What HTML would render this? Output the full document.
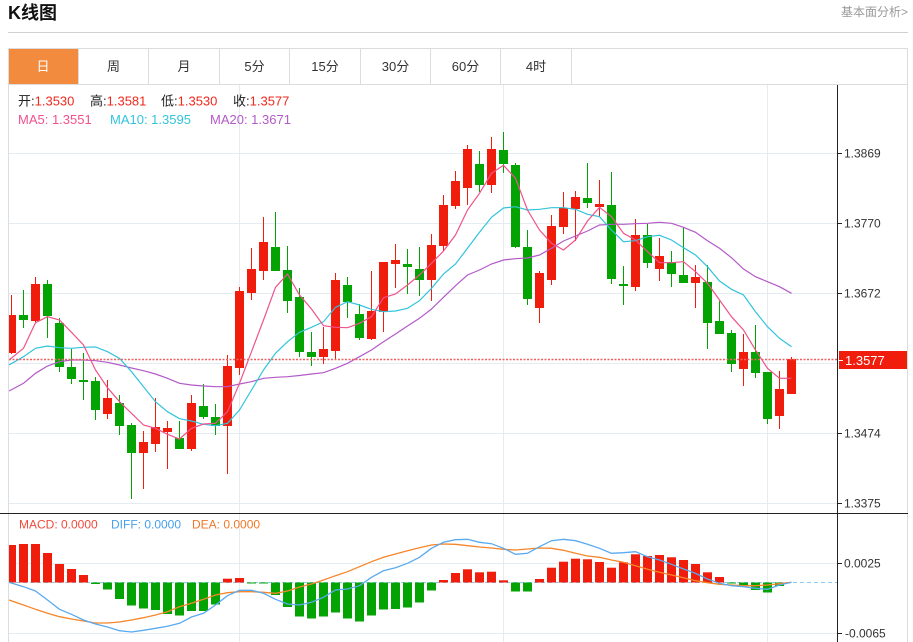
<!DOCTYPE html>
<html><head><meta charset="utf-8"><style>
html,body{margin:0;padding:0;background:#fff;}
svg{display:block;font-family:"Liberation Sans","Noto Sans CJK SC",sans-serif;}
</style></head><body>
<svg width="913" height="642" viewBox="0 0 913 642" xmlns="http://www.w3.org/2000/svg">
<defs><clipPath id="cp"><rect x="9" y="85" width="828.5" height="557"/></clipPath></defs>
<rect width="913" height="642" fill="#fff"/>
<text x="8" y="19" font-size="18" font-weight="bold" fill="#111">K线图</text>
<text x="908" y="16" font-size="12" fill="#999" text-anchor="end">基本面分析&gt;</text>
<line x1="8" y1="32.5" x2="908" y2="32.5" stroke="#d0d0d0" stroke-width="1"/>
<!-- frame -->
<rect x="8.5" y="48.5" width="899" height="600" fill="none" stroke="#dcdcdc"/>
<line x1="8" y1="84.5" x2="908" y2="84.5" stroke="#dcdcdc"/>
<rect x="9" y="49" width="69.5" height="35" fill="#f28b3e"/>
<g stroke="#dcdcdc">
<line x1="78.5" y1="49" x2="78.5" y2="84"/><line x1="148.5" y1="49" x2="148.5" y2="84"/><line x1="219.5" y1="49" x2="219.5" y2="84"/><line x1="289.5" y1="49" x2="289.5" y2="84"/><line x1="360.5" y1="49" x2="360.5" y2="84"/><line x1="430.5" y1="49" x2="430.5" y2="84"/><line x1="500.5" y1="49" x2="500.5" y2="84"/><line x1="571.5" y1="49" x2="571.5" y2="84"/>
</g>
<g font-size="13" text-anchor="middle" fill="#333">
<text x="43" y="71" fill="#fff">日</text><text x="113.5" y="71">周</text><text x="184" y="71">月</text><text x="254.5" y="71">5分</text><text x="325" y="71">15分</text><text x="395.5" y="71">30分</text><text x="465.5" y="71">60分</text><text x="536" y="71">4时</text>
</g>
<!-- grid -->
<g stroke="#e4ebf1" stroke-width="1">
<line x1="9" y1="153.5" x2="838" y2="153.5"/><line x1="9" y1="223.5" x2="838" y2="223.5"/><line x1="9" y1="293.5" x2="838" y2="293.5"/><line x1="9" y1="363.5" x2="838" y2="363.5"/><line x1="9" y1="433.5" x2="838" y2="433.5"/><line x1="9" y1="503.5" x2="838" y2="503.5"/>
<line x1="9" y1="563.5" x2="838" y2="563.5"/><line x1="9" y1="633.5" x2="838" y2="633.5"/>
<line x1="239.5" y1="85" x2="239.5" y2="642"/><line x1="503.5" y1="85" x2="503.5" y2="642"/><line x1="767.5" y1="85" x2="767.5" y2="642"/>
</g>
<!-- info text -->
<g font-size="13">
<text x="18" y="105.5"><tspan fill="#222">开:</tspan><tspan fill="#f0281e">1.3530</tspan></text>
<text x="90" y="105.5"><tspan fill="#222">高:</tspan><tspan fill="#f0281e">1.3581</tspan></text>
<text x="161" y="105.5"><tspan fill="#222">低:</tspan><tspan fill="#f0281e">1.3530</tspan></text>
<text x="233" y="105.5"><tspan fill="#222">收:</tspan><tspan fill="#f0281e">1.3577</tspan></text>
<text x="18" y="124" fill="#f0528c">MA5: 1.3551</text>
<text x="110" y="124" fill="#32c4dc">MA10: 1.3595</text>
<text x="210" y="124" fill="#b45ac8">MA20: 1.3671</text>
</g>
<g clip-path="url(#cp)">
<!-- wicks -->
<path fill="none" stroke="#f01c0c" stroke-width="1" d="M11.5 295V354M35.5 277V323M107.5 380V419M143.5 431V489M155.5 398V452M167.5 421V469M191.5 395V451M227.5 355V474M239.5 287V375M251.5 248V300M263.5 217V280M323.5 327V364M335.5 273V359M371.5 271V340M383.5 262V332M395.5 244V288M431.5 234V301M443.5 195V251M455.5 171V209M467.5 145V205M491.5 137V193M539.5 271V323M551.5 215V285M563.5 192V234M575.5 191V241M599.5 180V217M635.5 219V291M659.5 238V281M695.5 265V308M743.5 334V386M779.5 371V429M791.5 357V394"/>
<path fill="none" stroke="#04a304" stroke-width="1" d="M23.5 290V328M47.5 280V338M59.5 318V372M71.5 349V384M83.5 353V400M95.5 377V420M119.5 395V435M131.5 423V499M179.5 421V449M203.5 384V419M215.5 404V435M275.5 212V271M287.5 246V313M299.5 288V357M311.5 332V366M347.5 277V318M359.5 304V340M407.5 249V294M419.5 247V296M479.5 151V192M503.5 132V173M515.5 163V248M527.5 230V305M587.5 163V208M611.5 172V284M623.5 266V305M647.5 224V268M671.5 251V287M683.5 227V283M707.5 265V349M719.5 301V334M731.5 330V372M755.5 325V378M767.5 372V424"/>
<!-- red bodies -->
<g fill="#f01c0c">
<rect x="7" y="315" width="9" height="38"/><rect x="31" y="284" width="9" height="37"/><rect x="103" y="398" width="9" height="16"/><rect x="139" y="442" width="9" height="11"/><rect x="151" y="427" width="9" height="17"/><rect x="163" y="428" width="9" height="4"/><rect x="187" y="403" width="9" height="46"/><rect x="223" y="366" width="9" height="60"/><rect x="235" y="291" width="9" height="77"/><rect x="247" y="269" width="9" height="24"/><rect x="259" y="242" width="9" height="29"/><rect x="319" y="349" width="9" height="8"/><rect x="331" y="280" width="9" height="71"/><rect x="367" y="311" width="9" height="28"/><rect x="379" y="262" width="9" height="50"/><rect x="391" y="260" width="9" height="4"/><rect x="427" y="245" width="9" height="35"/><rect x="439" y="205" width="9" height="41"/><rect x="451" y="181" width="9" height="25"/><rect x="463" y="149" width="9" height="39"/><rect x="487" y="149" width="9" height="36"/><rect x="535" y="273" width="9" height="35"/><rect x="547" y="226" width="9" height="54"/><rect x="559" y="208" width="9" height="19"/><rect x="571" y="197" width="9" height="12"/><rect x="595" y="204" width="9" height="3"/><rect x="631" y="235" width="9" height="52"/><rect x="655" y="256" width="9" height="13"/><rect x="691" y="277" width="9" height="6"/><rect x="739" y="352" width="9" height="17"/><rect x="775" y="389" width="9" height="27"/><rect x="787" y="359" width="9" height="35"/>
</g>
<g fill="#04a304">
<rect x="19" y="315" width="9" height="5"/><rect x="43" y="284" width="9" height="32"/><rect x="55" y="323" width="9" height="44"/><rect x="67" y="367" width="9" height="12"/><rect x="79" y="380" width="9" height="2"/><rect x="91" y="381" width="9" height="29"/><rect x="115" y="403" width="9" height="23"/><rect x="127" y="425" width="9" height="28"/><rect x="175" y="438" width="9" height="11"/><rect x="199" y="406" width="9" height="11"/><rect x="211" y="417" width="9" height="9"/><rect x="271" y="247" width="9" height="24"/><rect x="283" y="270" width="9" height="31"/><rect x="295" y="297" width="9" height="55"/><rect x="307" y="352" width="9" height="5"/><rect x="343" y="285" width="9" height="17"/><rect x="355" y="314" width="9" height="24"/><rect x="403" y="264" width="9" height="3"/><rect x="415" y="269" width="9" height="11"/><rect x="475" y="164" width="9" height="21"/><rect x="499" y="150" width="9" height="14"/><rect x="511" y="165" width="9" height="82"/><rect x="523" y="247" width="9" height="52"/><rect x="583" y="198" width="9" height="5"/><rect x="607" y="205" width="9" height="74"/><rect x="619" y="284" width="9" height="2"/><rect x="643" y="235" width="9" height="28"/><rect x="667" y="262" width="9" height="12"/><rect x="679" y="275" width="9" height="8"/><rect x="703" y="282" width="9" height="41"/><rect x="715" y="321" width="9" height="13"/><rect x="727" y="333" width="9" height="31"/><rect x="751" y="352" width="9" height="21"/><rect x="763" y="372" width="9" height="47"/>
</g>
<!-- MA lines -->
<polyline fill="none" stroke="#b45ac8" stroke-width="1.2" points="9,391 23.5,383.3 35.5,373.3 47.5,366 59.5,361.7 71.5,360 83.5,360 95.5,360.7 107.5,362.3 119.5,365 131.5,368 143.5,370.7 155.5,374 167.5,378.3 179.5,383.3 191.5,385 203.5,386 215.5,386.7 227.5,386.7 239.5,384 251.5,381.7 263.5,378.3 275.5,377.3 287.5,376.7 299.5,375.5 311.5,374 323.5,372.7 335.5,368.3 347.5,363.3 359.5,356.7 371.5,350 383.5,341.7 395.5,334 407.5,326 419.5,318.3 431.5,309 443.5,297.3 455.5,285.7 467.5,275 479.5,270 491.5,264 503.5,260 515.5,258.7 527.5,258 539.5,255 551.5,248.3 563.5,241 575.5,236 587.5,231 599.5,225 611.5,224.3 623.5,224.3 635.5,223.7 647.5,223.3 659.5,222.3 671.5,223.3 683.5,227.3 695.5,232.3 707.5,240.7 719.5,248.3 731.5,257.7 743.5,269 755.5,276.7 767.5,281.7 779.5,286.7 791.5,293.3"/>
<polyline fill="none" stroke="#32c4dc" stroke-width="1.2" points="9,365 23.5,356.7 35.5,348.3 47.5,346 59.5,347.7 71.5,348.3 83.5,347.3 95.5,347 107.5,351.7 119.5,358.3 131.5,371.7 143.5,386.7 155.5,401.7 167.5,411.7 179.5,418.7 191.5,421 203.5,424.3 215.5,425.7 227.5,423.3 239.5,410 251.5,390 263.5,370 275.5,353.3 287.5,341.7 299.5,332.3 311.5,327.3 323.5,321.7 335.5,307.3 347.5,301.7 359.5,305 371.5,309.3 383.5,311.7 395.5,311 407.5,308.3 419.5,300.7 431.5,288.3 443.5,274 455.5,264 467.5,248.3 479.5,232.3 491.5,217.3 503.5,208 515.5,206.7 527.5,210 539.5,209.3 551.5,207.7 563.5,207.7 575.5,209.3 587.5,214.3 599.5,216.7 611.5,230 623.5,241.7 635.5,240.7 647.5,236.7 659.5,235.3 671.5,240 683.5,247.7 695.5,255 707.5,266.7 719.5,281 731.5,289.3 743.5,295 755.5,311.7 767.5,326.7 779.5,338.3 791.5,346.7"/>
<polyline fill="none" stroke="#f0528c" stroke-width="1.2" points="9,360 23.5,348.3 35.5,322.7 47.5,316.7 59.5,320 71.5,332.3 83.5,345 95.5,370 107.5,387.7 119.5,401.7 131.5,413.3 143.5,425 155.5,428.3 167.5,434.3 179.5,439 191.5,428.3 203.5,424 215.5,423.3 227.5,411.7 239.5,383.3 251.5,351.7 263.5,320 275.5,287.3 287.5,274 299.5,295 311.5,309 323.5,325.7 335.5,327.3 347.5,327.7 359.5,323.3 371.5,316.7 383.5,297.7 395.5,294 407.5,285 419.5,275 431.5,263.3 443.5,251 455.5,235 467.5,210 479.5,193.3 491.5,173.3 503.5,165.3 515.5,178.3 527.5,210 539.5,230 551.5,243.3 563.5,250 575.5,240 587.5,221 599.5,207.3 611.5,216.7 623.5,233.3 635.5,240 647.5,251.7 659.5,262.7 671.5,262.7 683.5,261.7 695.5,271.7 707.5,283.3 719.5,300 731.5,316.7 743.5,330 755.5,350 767.5,368.3 779.5,378.3 791.5,378.3"/>
<!-- current price line -->
<line x1="9" y1="359.5" x2="838" y2="359.5" stroke="#f06060" stroke-width="1.5" stroke-dasharray="2,1.5"/>
<!-- MACD -->
<line x1="9" y1="582.5" x2="838" y2="582.5" stroke="#8ccbf0" stroke-width="1" stroke-dasharray="4,3"/>
<g fill="#f01c0c">
<rect x="7" y="545" width="9" height="37.5"/><rect x="19" y="544" width="9" height="38.5"/><rect x="31" y="544" width="9" height="38.5"/><rect x="43" y="553" width="9" height="29.5"/><rect x="55" y="564" width="9" height="18.5"/><rect x="67" y="569" width="9" height="13.5"/><rect x="79" y="575" width="9" height="7.5"/><rect x="223" y="578.7" width="9" height="3.8"/><rect x="235" y="578" width="9" height="4.5"/><rect x="439" y="580" width="9" height="2.5"/><rect x="451" y="573" width="9" height="9.5"/><rect x="463" y="569.3" width="9" height="13.2"/><rect x="475" y="572.3" width="9" height="10.2"/><rect x="487" y="571.7" width="9" height="10.8"/><rect x="499" y="580.3" width="9" height="2.2"/><rect x="535" y="579" width="9" height="3.5"/><rect x="547" y="567.7" width="9" height="14.8"/><rect x="559" y="561.7" width="9" height="20.8"/><rect x="571" y="558.7" width="9" height="23.8"/><rect x="583" y="559.3" width="9" height="23.2"/><rect x="595" y="562" width="9" height="20.5"/><rect x="607" y="567.7" width="9" height="14.8"/><rect x="619" y="562.3" width="9" height="20.2"/><rect x="631" y="554.3" width="9" height="28.2"/><rect x="643" y="556" width="9" height="26.5"/><rect x="655" y="555" width="9" height="27.5"/><rect x="667" y="557.3" width="9" height="25.2"/><rect x="679" y="560" width="9" height="22.5"/><rect x="691" y="564" width="9" height="18.5"/><rect x="703" y="572.3" width="9" height="10.2"/><rect x="715" y="577" width="9" height="5.5"/>
</g>
<g fill="#04a304">
<rect x="91" y="582.5" width="9" height="1.5"/><rect x="103" y="582.5" width="9" height="7"/><rect x="115" y="582.5" width="9" height="16.5"/><rect x="127" y="582.5" width="9" height="23"/><rect x="139" y="582.5" width="9" height="26"/><rect x="151" y="582.5" width="9" height="27.5"/><rect x="163" y="582.5" width="9" height="31.5"/><rect x="175" y="582.5" width="9" height="33"/><rect x="187" y="582.5" width="9" height="28.5"/><rect x="199" y="582.5" width="9" height="28.5"/><rect x="211" y="582.5" width="9" height="22"/><rect x="247" y="582.5" width="9" height="1"/><rect x="259" y="582.5" width="9" height="1"/><rect x="271" y="582.5" width="9" height="12.5"/><rect x="283" y="582.5" width="9" height="24.5"/><rect x="295" y="582.5" width="9" height="34"/><rect x="307" y="582.5" width="9" height="36"/><rect x="319" y="582.5" width="9" height="34"/><rect x="331" y="582.5" width="9" height="30"/><rect x="343" y="582.5" width="9" height="36"/><rect x="355" y="582.5" width="9" height="39"/><rect x="367" y="582.5" width="9" height="33"/><rect x="379" y="582.5" width="9" height="27"/><rect x="391" y="582.5" width="9" height="26.5"/><rect x="403" y="582.5" width="9" height="25"/><rect x="415" y="582.5" width="9" height="20"/><rect x="427" y="582.5" width="9" height="8"/><rect x="511" y="582.5" width="9" height="9"/><rect x="523" y="582.5" width="9" height="9"/><rect x="727" y="582.5" width="9" height="1"/><rect x="739" y="582.5" width="9" height="2.5"/><rect x="751" y="582.5" width="9" height="7.5"/><rect x="763" y="582.5" width="9" height="10"/><rect x="775" y="582.5" width="9" height="3.5"/>
</g>
<polyline fill="none" stroke="#f5862a" stroke-width="1.3" points="9,600 23.5,605 35.5,609.3 47.5,613.3 59.5,616.7 71.5,619 83.5,621 95.5,623 107.5,623 119.5,622 131.5,620 143.5,617.7 155.5,615 167.5,611.7 179.5,606.7 191.5,603.3 203.5,599.3 215.5,595 227.5,592.7 239.5,591.7 251.5,591.7 263.5,592.3 275.5,593.3 287.5,591 299.5,587 311.5,584 323.5,580 335.5,575.7 347.5,571.7 359.5,566.7 371.5,561.7 383.5,557.3 395.5,554 407.5,550.7 419.5,547.7 431.5,545 443.5,544 455.5,544.3 467.5,545.7 479.5,547 491.5,548 503.5,549.3 515.5,550 527.5,549 539.5,548 551.5,548.3 563.5,550.3 575.5,553.3 587.5,556 599.5,557.3 611.5,560 623.5,562.3 635.5,565.7 647.5,569.3 659.5,572.3 671.5,575 683.5,577.7 695.5,580.7 707.5,582.7 719.5,584.3 731.5,585 743.5,585.7 755.5,585.7 767.5,585 779.5,583.7 791.5,582.3"/>
<polyline fill="none" stroke="#5aaaf0" stroke-width="1.3" points="9,582.3 23.5,586.7 35.5,591 47.5,600 59.5,609.3 71.5,614.3 83.5,620 95.5,624 107.5,627 119.5,630.7 131.5,632 143.5,630.3 155.5,628.3 167.5,626.3 179.5,623.3 191.5,617 203.5,613.3 215.5,605 227.5,595.7 239.5,590.3 251.5,590.3 263.5,593.3 275.5,599.3 287.5,604 299.5,605 311.5,602.3 323.5,597.3 335.5,590 347.5,589 359.5,585.7 371.5,577.3 383.5,570.7 395.5,567.7 407.5,563.3 419.5,557.3 431.5,548.3 443.5,542.3 455.5,539.7 467.5,539.3 479.5,542.3 491.5,543.7 503.5,548.3 515.5,554.3 527.5,553.3 539.5,546.7 551.5,540.7 563.5,539.3 575.5,540.7 587.5,544.3 599.5,548.3 611.5,553.3 623.5,552.7 635.5,551.7 647.5,556.7 659.5,560 671.5,564.3 683.5,569 695.5,573.3 707.5,579 719.5,583.3 731.5,585.7 743.5,586.7 755.5,588.3 767.5,589.3 779.5,585 791.5,582.3"/>
</g>
<!-- left border -->
<line x1="8.5" y1="85" x2="8.5" y2="642" stroke="#d8dee4"/>
<!-- axes -->
<line x1="0" y1="513.5" x2="908" y2="513.5" stroke="#222" stroke-width="1"/>
<line x1="837.5" y1="85" x2="837.5" y2="642" stroke="#222" stroke-width="1"/>
<g stroke="#222">
<line x1="838" y1="153.5" x2="842" y2="153.5"/><line x1="838" y1="223.5" x2="842" y2="223.5"/><line x1="838" y1="293.5" x2="842" y2="293.5"/><line x1="838" y1="433.5" x2="842" y2="433.5"/><line x1="838" y1="503.5" x2="842" y2="503.5"/><line x1="838" y1="563.5" x2="842" y2="563.5"/><line x1="838" y1="633.5" x2="842" y2="633.5"/>
</g>
<g font-size="12" fill="#333">
<text x="844" y="157.5">1.3869</text><text x="844" y="227.5">1.3770</text><text x="844" y="297.5">1.3672</text><text x="844" y="437.5">1.3474</text><text x="844" y="507.5">1.3375</text>
<text x="844" y="567.5">0.0025</text><text x="845" y="637.5">-0.0065</text>
</g>
<rect x="839" y="351" width="68" height="18" fill="#f01c0c"/>
<line x1="838" y1="360.5" x2="843" y2="360.5" stroke="#fff"/>
<text x="845" y="365" font-size="13" fill="#fff">1.3577</text>
<!-- MACD labels -->
<g font-size="12">
<text x="19" y="528.5" fill="#f04a3c">MACD: 0.0000</text>
<text x="111" y="528.5" fill="#4aa0ec">DIFF: 0.0000</text>
<text x="192" y="528.5" fill="#f07828">DEA: 0.0000</text>
</g>
</svg>
</body></html>
